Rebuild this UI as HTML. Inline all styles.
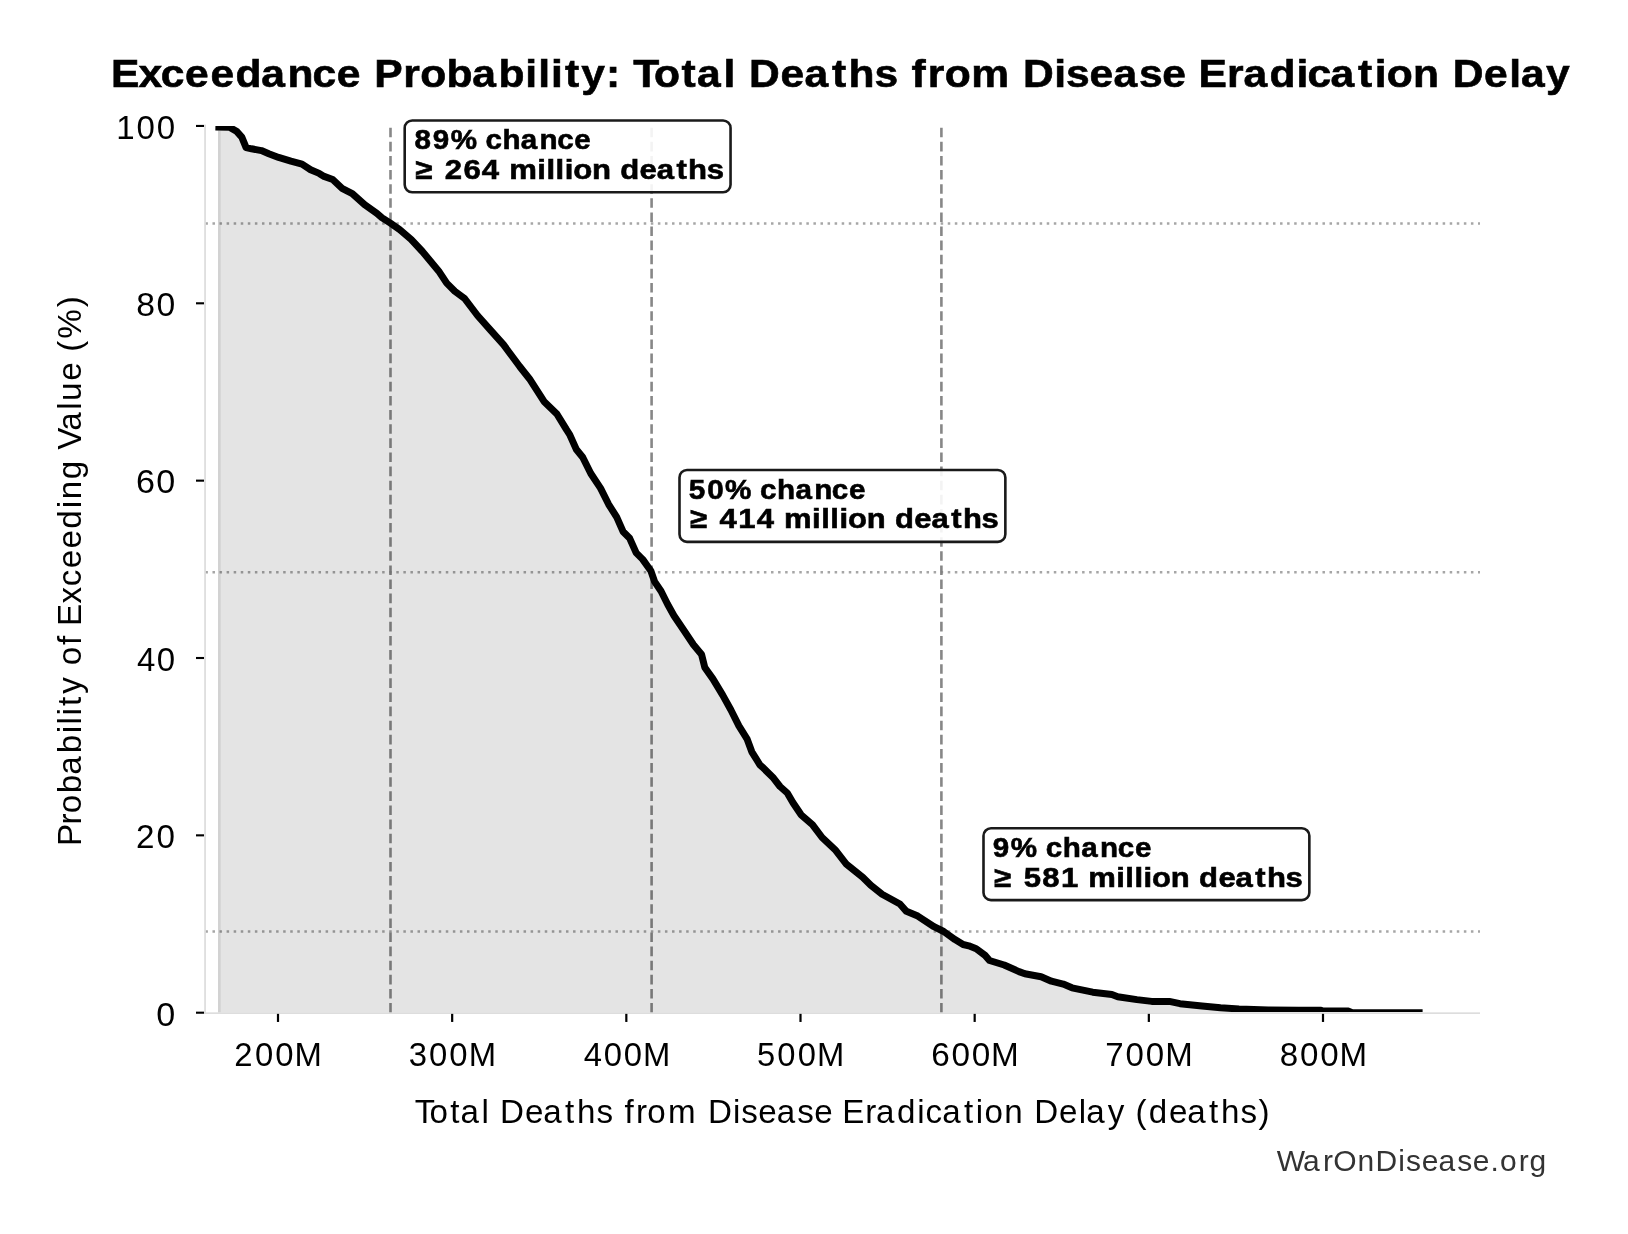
<!DOCTYPE html>
<html><head><meta charset="utf-8"><title>Exceedance Probability</title>
<style>html,body{margin:0;padding:0;background:#fff;overflow:hidden;} svg{display:block;will-change:transform;}</style>
</head><body>
<svg width="1628" height="1234" viewBox="0 0 1628 1234">
<defs><clipPath id="ax"><rect x="205.05" y="125.95" width="1274.95" height="886.05"/></clipPath><clipPath id="axf"><rect x="205.05" y="125.95" width="1274.95" height="886.75"/></clipPath></defs>
<rect width="1628" height="1234" fill="#fff"/>
<line x1="205.4" y1="223.5" x2="1480.0" y2="223.5" stroke="#808080" stroke-opacity="0.7" stroke-width="2.6" stroke-dasharray="2.5 4.57"/>
<line x1="205.4" y1="572.3" x2="1480.0" y2="572.3" stroke="#808080" stroke-opacity="0.7" stroke-width="2.6" stroke-dasharray="2.5 4.57"/>
<line x1="205.4" y1="931.5" x2="1480.0" y2="931.5" stroke="#808080" stroke-opacity="0.7" stroke-width="2.6" stroke-dasharray="2.5 4.57"/>
<line x1="390.5" y1="1012.7" x2="390.5" y2="125.95" stroke="#808080" stroke-opacity="0.94" stroke-width="2.6" stroke-dasharray="9.6 4.52"/>
<line x1="651.6" y1="1012.7" x2="651.6" y2="125.95" stroke="#808080" stroke-opacity="0.94" stroke-width="2.6" stroke-dasharray="9.6 4.52"/>
<line x1="941.4" y1="1012.7" x2="941.4" y2="125.95" stroke="#808080" stroke-opacity="0.94" stroke-width="2.6" stroke-dasharray="9.6 4.52"/>
<polygon clip-path="url(#axf)" points="218.0,1012.7 218.0,128.4 229.5,128.2 236.9,132.6 241.8,138.1 246.1,148.6 251.6,149.8 261.4,151.6 268.8,154.7 278.6,158.4 290.9,162.1 302.0,165.1 310.6,170.7 319.2,174.4 324.1,177.4 332.7,180.5 342.5,189.7 352.3,194.6 364.6,205.7 376.9,214.3 381.8,218.6 390.4,224.1 399.7,230.6 411.1,240.3 422.4,252.5 438.6,271.9 446.7,284.1 454.8,292.2 464.6,299.5 477.5,316.5 490.5,331.1 503.5,345.7 519.7,367.5 529.4,379.7 544.0,402.4 556.9,415.0 566.5,430.7 569.7,435.6 576.2,450.2 582.7,458.3 590.8,474.5 600.5,489.1 608.6,505.3 616.7,518.2 623.2,532.8 629.7,539.3 636.2,553.9 642.7,560.4 650.8,571.7 654.6,582.6 661.1,592.3 667.6,605.3 674.0,616.7 683.8,631.2 693.5,645.8 701.6,655.6 704.8,668.5 712.9,679.9 722.7,696.1 730.8,710.7 738.9,726.9 747.0,739.8 751.8,752.8 759.9,765.8 762.1,767.8 773.5,779.1 780.0,787.5 787.3,794.0 793.0,803.7 801.1,815.8 812.4,825.6 822.1,838.5 835.1,850.7 846.5,865.3 862.7,878.2 870.8,886.3 882.1,895.3 899.9,905.0 906.4,912.3 917.8,917.1 934.0,927.7 943.7,932.5 955.0,940.6 963.1,945.5 968.8,946.8 976.2,949.7 985.1,956.4 989.5,961.5 1004.2,966.0 1019.0,972.6 1024.9,974.8 1041.1,977.8 1051.4,982.2 1063.2,985.1 1072.0,988.8 1092.7,993.2 1111.9,995.5 1117.7,997.7 1136.9,1000.6 1151.7,1002.4 1169.3,1002.4 1180.0,1004.7 1202.0,1006.9 1220.5,1008.7 1239.0,1010.0 1268.4,1011.0 1298.6,1011.2 1321.0,1011.3 1323.0,1012.0 1348.5,1012.1 1351.5,1013.5 1422.6,1013.8 1422.6,1012.7" fill="#000" fill-opacity="0.106"/>
<rect x="218.0" y="131" width="2.7" height="881.7" fill="#000" fill-opacity="0.08"/>
<polyline clip-path="url(#ax)" points="215.4,126.9 229.5,127.2 236.9,131.6 241.8,137.1 246.1,147.6 251.6,148.8 261.4,150.6 268.8,153.7 278.6,157.4 290.9,161.1 302.0,164.1 310.6,169.7 319.2,173.4 324.1,176.4 332.7,179.5 342.5,188.7 352.3,193.6 364.6,204.7 376.9,213.3 381.8,217.6 390.4,223.1 399.7,229.6 411.1,239.3 422.4,251.5 438.6,270.9 446.7,283.1 454.8,291.2 464.6,298.5 477.5,315.5 490.5,330.1 503.5,344.7 519.7,366.5 529.4,378.7 544.0,401.4 556.9,414.0 566.5,429.7 569.7,434.6 576.2,449.2 582.7,457.3 590.8,473.5 600.5,488.1 608.6,504.3 616.7,517.2 623.2,531.8 629.7,538.3 636.2,552.9 642.7,559.4 650.8,570.7 654.6,581.6 661.1,591.3 667.6,604.3 674.0,615.7 683.8,630.2 693.5,644.8 701.6,654.6 704.8,667.5 712.9,678.9 722.7,695.1 730.8,709.7 738.9,725.9 747.0,738.8 751.8,751.8 759.9,764.8 762.1,766.8 773.5,778.1 780.0,786.5 787.3,793.0 793.0,802.7 801.1,814.8 812.4,824.6 822.1,837.5 835.1,849.7 846.5,864.3 862.7,877.2 870.8,885.3 882.1,894.3 899.9,904.0 906.4,911.3 917.8,916.1 934.0,926.7 943.7,931.5 955.0,939.6 963.1,944.5 968.8,945.8 976.2,948.7 985.1,955.4 989.5,960.5 1004.2,965.0 1019.0,971.6 1024.9,973.8 1041.1,976.8 1051.4,981.2 1063.2,984.1 1072.0,987.8 1092.7,992.2 1111.9,994.5 1117.7,996.7 1136.9,999.6 1151.7,1001.4 1169.3,1001.4 1180.0,1003.7 1202.0,1005.9 1220.5,1007.7 1239.0,1009.0 1268.4,1010.0 1298.6,1010.2 1321.0,1010.3 1323.0,1011.0 1348.5,1011.1 1351.5,1012.5 1422.6,1012.8" fill="none" stroke="#000" stroke-width="7.0" stroke-linejoin="round" stroke-linecap="butt"/>
<rect x="204.2" y="124.6" width="1.7" height="889.3" fill="#dcdcdc"/>
<rect x="204.2" y="1012.35" width="1275.8" height="1.6" fill="#dcdcdc"/>
<rect x="196.0" y="1011.65" width="8.0" height="2.1" fill="#000"/>
<rect x="196.0" y="834.30" width="8.0" height="2.1" fill="#000"/>
<rect x="196.0" y="656.95" width="8.0" height="2.1" fill="#000"/>
<rect x="196.0" y="479.60" width="8.0" height="2.1" fill="#000"/>
<rect x="196.0" y="302.25" width="8.0" height="2.1" fill="#000"/>
<rect x="196.0" y="124.90" width="8.0" height="2.1" fill="#000"/>
<rect x="276.90" y="1013.85" width="2.2" height="8.1" fill="#000"/>
<rect x="451.07" y="1013.85" width="2.2" height="8.1" fill="#000"/>
<rect x="625.23" y="1013.85" width="2.2" height="8.1" fill="#000"/>
<rect x="799.40" y="1013.85" width="2.2" height="8.1" fill="#000"/>
<rect x="973.57" y="1013.85" width="2.2" height="8.1" fill="#000"/>
<rect x="1147.74" y="1013.85" width="2.2" height="8.1" fill="#000"/>
<rect x="1321.90" y="1013.85" width="2.2" height="8.1" fill="#000"/>
<text transform="translate(0,1025.50) scale(1.0271,1)" x="152.12" y="0" font-family="Liberation Sans, sans-serif" font-size="33.24" fill="#000">0</text>
<text transform="translate(0,848.15) scale(0.9993,1)" x="136.00 156.68" y="0" font-family="Liberation Sans, sans-serif" font-size="33.24" fill="#000">20</text>
<text transform="translate(0,670.80) scale(0.9926,1)" x="137.97 157.99" y="0" font-family="Liberation Sans, sans-serif" font-size="33.24" fill="#000">40</text>
<text transform="translate(0,493.45) scale(1.0274,1)" x="132.47 152.17" y="0" font-family="Liberation Sans, sans-serif" font-size="33.24" fill="#000">60</text>
<text transform="translate(0,316.10) scale(1.0145,1)" x="134.34 154.23" y="0" font-family="Liberation Sans, sans-serif" font-size="33.24" fill="#000">80</text>
<text transform="translate(0,138.75) scale(0.9948,1)" x="116.79 137.19 157.49" y="0" font-family="Liberation Sans, sans-serif" font-size="33.24" fill="#000">100</text>
<text transform="translate(0,1065.90) scale(0.9867,1)" x="237.44 258.35 278.90 298.54" y="0" font-family="Liberation Sans, sans-serif" font-size="33.31" fill="#000">200M</text>
<text transform="translate(0,1065.90) scale(0.9863,1)" x="414.53 435.02 455.60 475.28" y="0" font-family="Liberation Sans, sans-serif" font-size="33.31" fill="#000">300M</text>
<text transform="translate(0,1065.90) scale(0.9844,1)" x="592.95 613.35 633.75 653.22" y="0" font-family="Liberation Sans, sans-serif" font-size="33.31" fill="#000">400M</text>
<text transform="translate(0,1065.90) scale(0.9826,1)" x="770.34 791.10 811.77 831.56" y="0" font-family="Liberation Sans, sans-serif" font-size="33.31" fill="#000">500M</text>
<text transform="translate(0,1065.90) scale(0.9994,1)" x="931.84 952.07 972.34 991.65" y="0" font-family="Liberation Sans, sans-serif" font-size="33.31" fill="#000">600M</text>
<text transform="translate(0,1065.90) scale(0.9917,1)" x="1114.40 1134.92 1155.45 1175.07" y="0" font-family="Liberation Sans, sans-serif" font-size="33.31" fill="#000">700M</text>
<text transform="translate(0,1065.90) scale(0.9938,1)" x="1287.81 1308.14 1328.50 1347.93" y="0" font-family="Liberation Sans, sans-serif" font-size="33.31" fill="#000">800M</text>
<text transform="translate(0,86.95) scale(1.0825,1)" x="102.52 127.89 148.59 170.99 194.43 217.51 241.45 265.67 288.61 311.01 333.89 345.71 372.48 388.12 412.54 436.17 460.60 485.28 497.13 508.97 521.90 537.06 559.78 573.23 585.05 604.07 629.52 643.90 668.28 679.66 692.02 720.93 743.22 768.67 783.86 807.80 828.83 841.96 857.13 872.76 897.17 932.68 945.04 973.86 984.79 1006.37 1028.65 1052.12 1073.69 1096.58 1107.07 1133.45 1148.66 1172.77 1197.77 1207.80 1229.04 1254.50 1269.94 1281.16 1305.37 1329.67 1342.03 1370.94 1394.28 1405.07 1428.11" y="0" font-family="Liberation Sans, sans-serif" font-size="39.35" font-weight="bold" stroke="#000" stroke-width="0.6" fill="#000">Exceedance Probability: Total Deaths from Disease Eradication Delay</text>
<text transform="translate(0,1122.70) scale(0.9992,1)" x="415.00 429.96 450.56 460.87 481.88 489.97 500.48 525.41 543.77 565.58 577.43 597.05 613.44 625.02 636.54 647.84 668.66 697.98 708.49 733.54 741.90 758.95 777.31 797.80 814.86 833.85 842.91 865.90 876.71 897.65 918.01 926.24 943.04 964.85 976.58 985.22 1005.17 1024.49 1034.99 1059.93 1079.71 1087.17 1108.57 1126.31 1136.31 1149.65 1169.89 1188.25 1210.06 1221.91 1241.53 1259.43" y="0" font-family="Liberation Sans, sans-serif" font-size="33.16" fill="#000">Total Deaths from Disease Eradication Delay (deaths)</text>
<text transform="translate(81.00,841.90) rotate(-90) scale(0.9928,1)" x="-4.06 17.41 28.78 49.03 67.73 89.20 109.34 118.29 127.23 136.98 149.19 167.07 177.84 198.43 208.34 217.45 240.02 257.53 275.77 295.58 315.44 335.96 345.05 365.24 384.96 395.02 414.07 435.25 444.23 464.47 483.62 493.69 506.83 538.53" y="0" font-family="Liberation Sans, sans-serif" font-size="33.45" fill="#000">Probability of Exceeding Value (%)</text>
<text transform="translate(0,1170.90) scale(0.9913,1)" x="1288.02 1314.54 1334.72 1345.04 1369.41 1387.58 1410.61 1418.37 1434.12 1451.07 1469.96 1485.71 1503.63 1513.12 1532.19 1542.93" y="0" font-family="Liberation Sans, sans-serif" font-size="30.25" fill="#333333">WarOnDisease.org</text>
<rect x="404.70" y="120.45" width="325.85" height="71.85" rx="7.5" ry="7.5" fill="#fff" fill-opacity="0.9" stroke="#1a1a1a" stroke-width="2.6"/>
<text transform="translate(0,148.95) scale(1.0487,1)" x="395.16 412.73 429.72 454.94 462.97 479.17 496.64 514.43 531.26 547.70" y="0" font-family="Liberation Sans, sans-serif" font-size="28.22" font-weight="bold" stroke="#000" stroke-width="0.6" fill="#000">89% chance</text>
<text transform="translate(0,178.90) scale(1.1033,1)" x="376.37 394.23 403.20 420.14 436.74 453.13 461.60 486.98 495.27 503.56 511.85 519.58 536.53 553.75 562.10 579.67 595.26 613.16 623.69 640.47" y="0" font-family="Liberation Sans, sans-serif" font-size="28.22" font-weight="bold" stroke="#000" stroke-width="0.6" fill="#000">≥ 264 million deaths</text>
<rect x="679.50" y="470.00" width="325.85" height="71.85" rx="7.5" ry="7.5" fill="#fff" fill-opacity="0.9" stroke="#1a1a1a" stroke-width="2.6"/>
<text transform="translate(0,498.50) scale(1.0511,1)" x="655.36 672.96 689.83 715.06 723.09 739.30 756.77 774.57 791.40 807.85" y="0" font-family="Liberation Sans, sans-serif" font-size="28.22" font-weight="bold" stroke="#000" stroke-width="0.6" fill="#000">50% chance</text>
<text transform="translate(0,528.45) scale(1.0992,1)" x="627.79 645.69 654.60 671.69 688.38 704.81 713.35 738.79 747.12 755.44 763.76 771.54 788.54 805.79 814.21 831.85 847.49 865.45 876.03 892.87" y="0" font-family="Liberation Sans, sans-serif" font-size="28.22" font-weight="bold" stroke="#000" stroke-width="0.6" fill="#000">≥ 414 million deaths</text>
<rect x="983.50" y="828.30" width="325.85" height="71.85" rx="7.5" ry="7.5" fill="#fff" fill-opacity="0.9" stroke="#1a1a1a" stroke-width="2.6"/>
<text transform="translate(0,856.80) scale(1.0487,1)" x="946.62 963.73 989.03 997.15 1013.45 1031.02 1048.91 1065.83 1082.37" y="0" font-family="Liberation Sans, sans-serif" font-size="28.22" font-weight="bold" stroke="#000" stroke-width="0.6" fill="#000">9% chance</text>
<text transform="translate(0,886.75) scale(1.1000,1)" x="903.74 921.63 930.73 947.52 964.48 980.71 989.24 1014.67 1022.99 1031.30 1039.62 1047.39 1064.38 1081.63 1090.04 1107.66 1123.29 1141.24 1151.81 1168.64" y="0" font-family="Liberation Sans, sans-serif" font-size="28.22" font-weight="bold" stroke="#000" stroke-width="0.6" fill="#000">≥ 581 million deaths</text>
</svg>
</body></html>
